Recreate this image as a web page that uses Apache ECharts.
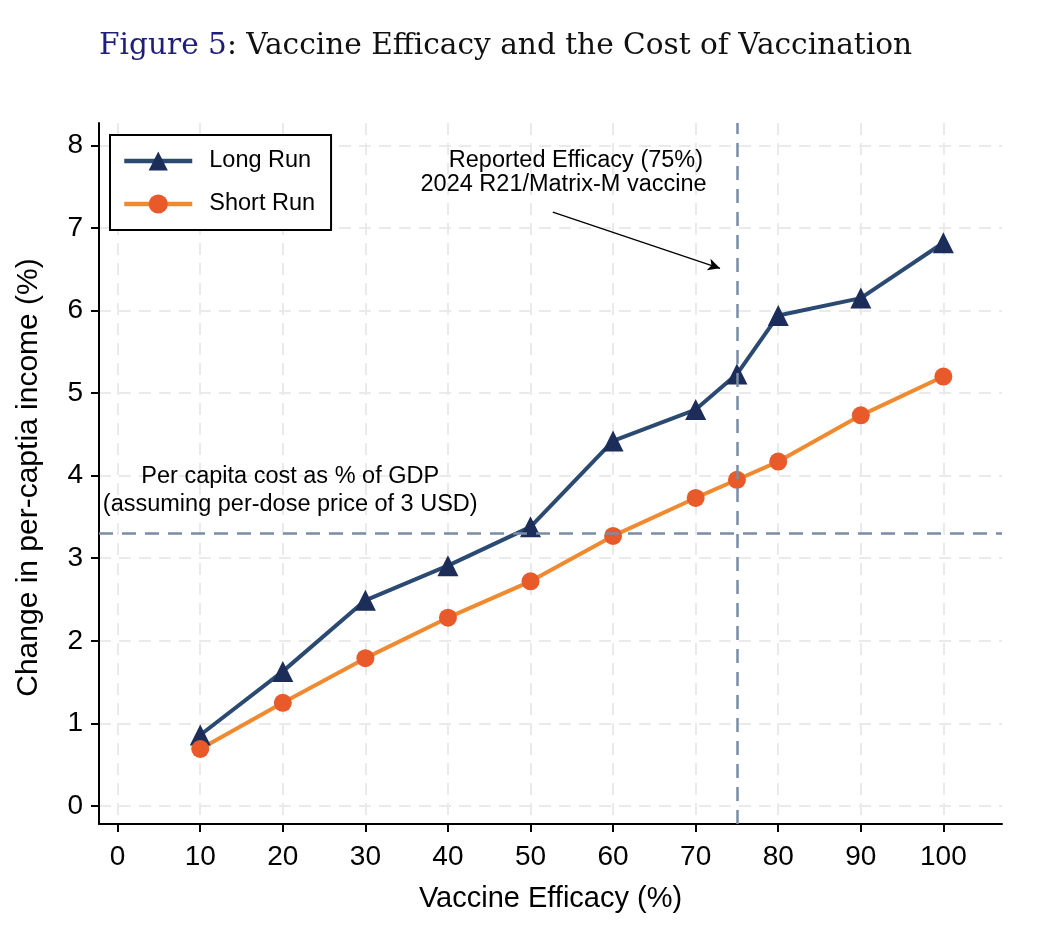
<!DOCTYPE html>
<html>
<head>
<meta charset="utf-8">
<script src="https://cdn.jsdelivr.net/npm/echarts@6/dist/echarts.min.js"></script>
<style>
  html, body { margin: 0; padding: 0; background: #fff; }
  #main { width: 1048px; height: 932px; }
</style>
</head>
<body>
<div id="main"></div>
<script>
// vaccine efficacy (%)
var efficacy = [10, 20, 30, 40, 50, 60, 70, 75, 80, 90, 100];
// change in per-capita income (%)
var longRun  = [0.86, 1.63, 2.49, 2.91, 3.38, 4.42, 4.80, 5.23, 5.94, 6.15, 6.82];
var shortRun = [0.69, 1.25, 1.79, 2.28, 2.72, 3.27, 3.73, 3.95, 4.17, 4.73, 5.20];

var xTicks = [0, 10, 20, 30, 40, 50, 60, 70, 80, 90, 100];
var yTicks = [0, 1, 2, 3, 4, 5, 6, 7, 8];

var reportedEfficacy = 75;   // vertical reference
var costShare = 3.3;         // per capita cost as % of GDP

var font = '"Liberation Sans", Arial, sans-serif';

function pairs(xs, ys) {
    var out = [];
    for (var i = 0; i < xs.length; i++) out.push([xs[i], ys[i]]);
    return out;
}

var myChart = echarts.init(document.getElementById('main'));
myChart.setOption({
    backgroundColor: '#fff',
    animation: false,
    title: {
        left: 94,
        top: 26,
        text: '{a|Figure 5}{b|: Vaccine Efficacy and the Cost of Vaccination}',
        textStyle: {
            fontWeight: 'normal',
            rich: {
                a: { color: '#1f1f7a', fontFamily: '"DejaVu Serif", serif', fontSize: 29.6, fontWeight: 'normal' },
                b: { color: '#111', fontFamily: '"DejaVu Serif", serif', fontSize: 29.6, fontWeight: 'normal' }
            }
        }
    },
    legend: {
        orient: 'vertical',
        left: 110,
        top: 135,
        data: ['Long Run', 'Short Run'],
        backgroundColor: '#fff',
        borderColor: '#000',
        borderWidth: 2,
        borderRadius: 0,
        padding: [14, 16, 14, 12],
        itemWidth: 68,
        itemHeight: 24,
        itemGap: 19,
        lineStyle: { width: 4.5 },
        textStyle: {
            fontFamily: font,
            fontSize: 23.5,
            color: '#000',
            padding: [0, 0, 0, 12]
        }
    },
    grid: {
        left: 99,
        right: 46,
        top: 123,
        bottom: 108
    },
    xAxis: {
        type: 'value',
        min: -2.26,
        max: 107.1,
        name: 'Vaccine Efficacy (%)',
        nameLocation: 'middle',
        nameGap: 60,
        nameTextStyle: { fontFamily: font, fontSize: 29, color: '#000' },
        axisLine: { show: true, onZero: false, lineStyle: { color: '#000', width: 2 } },
        axisTick: { show: true, length: 8, customValues: xTicks, lineStyle: { color: '#000', width: 2 } },
        axisLabel: { customValues: xTicks, margin: 19, fontFamily: font, fontSize: 28, color: '#000' },
        splitLine: { show: true, lineStyle: { color: '#eaeaea', width: 2, type: [12, 8] } }
    },
    yAxis: {
        type: 'value',
        min: -0.218,
        max: 8.27,
        name: 'Change in per-captia income (%)',
        nameLocation: 'middle',
        nameGap: 55,
        nameTextStyle: { fontFamily: font, fontSize: 30, color: '#000', padding: [0, 8, 0, 0] },
        axisLine: { show: true, onZero: false, lineStyle: { color: '#000', width: 2 } },
        axisTick: { show: true, length: 8, customValues: yTicks, lineStyle: { color: '#000', width: 2 } },
        axisLabel: { customValues: yTicks, margin: 16, fontFamily: font, fontSize: 28, color: '#000' },
        splitLine: { show: true, lineStyle: { color: '#eaeaea', width: 2, type: [12, 8] } }
    },
    series: [
        {
            // reference lines, arrow and notes
            name: 'ref',
            type: 'line',
            data: [],
            z: 1,
            silent: true,
            markLine: {
                silent: true,
                symbol: ['none', 'none'],
                label: { show: false },
                lineStyle: { color: '#7a8ca6', width: 2.5, type: [14, 9] },
                data: [
                    { xAxis: reportedEfficacy },
                    { yAxis: costShare },
                    [
                        { coord: [52.7, 7.19], symbol: 'none',
                          lineStyle: { color: '#000', width: 1.3, type: 'solid' } },
                        { coord: [72.95, 6.51], symbol: 'arrow', symbolSize: [9, 12] }
                    ]
                ]
            },
            markPoint: {
                silent: true,
                symbol: 'circle',
                symbolSize: 1,
                itemStyle: { color: 'rgba(0,0,0,0)' },
                label: {
                    show: true,
                    position: 'inside',
                    fontFamily: font,
                    fontSize: 23.5,
                    color: '#000'
                },
                data: [
                    { coord: [55.5, 7.81], label: { formatter: 'Reported Efficacy (75%)' } },
                    { coord: [54.0, 7.52], label: { formatter: '2024 R21/Matrix-M vaccine' } },
                    { coord: [20.9, 3.99], label: { formatter: 'Per capita cost as % of GDP' } },
                    { coord: [20.9, 3.65], label: { formatter: '(assuming per-dose price of 3 USD)' } }
                ]
            }
        },
        {
            name: 'Long Run',
            type: 'line',
            data: pairs(efficacy, longRun),
            z: 3,
            symbol: 'triangle',
            symbolSize: 21,
            lineStyle: { color: '#2a4a72', width: 4 },
            itemStyle: { color: '#1d2d5a' }
        },
        {
            name: 'Short Run',
            type: 'line',
            data: pairs(efficacy, shortRun),
            z: 3,
            symbol: 'circle',
            symbolSize: 18,
            lineStyle: { color: '#f08a30', width: 4 },
            itemStyle: { color: '#e85a2a' }
        }
    ]
});
</script>
</body>
</html>
